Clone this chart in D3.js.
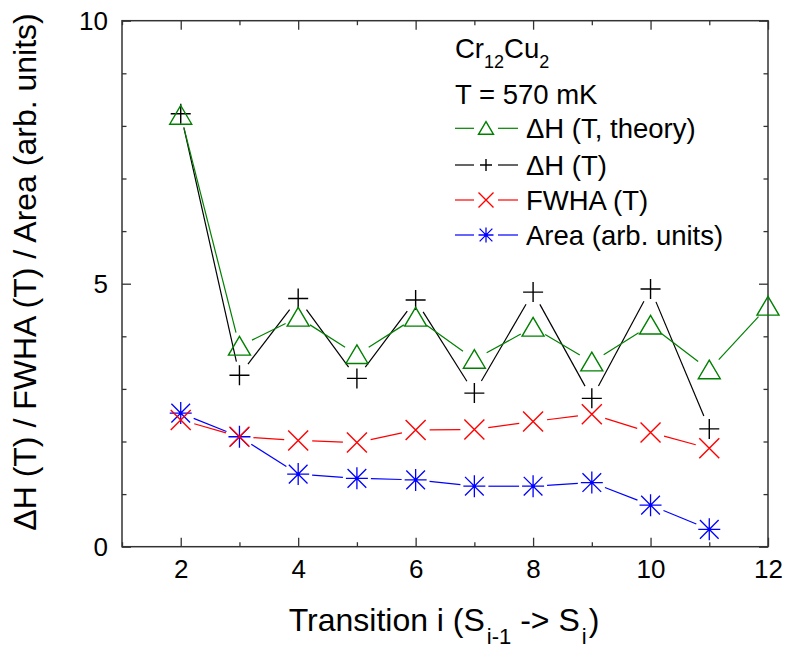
<!DOCTYPE html>
<html>
<head>
<meta charset="utf-8">
<script src="https://cdn.jsdelivr.net/npm/d3@7"></script>
<style>
body { margin: 0; background: #fff; }
text { font-family: "Liberation Sans", Arial, sans-serif; fill: #000; }
</style>
</head>
<body>
<svg id="chart" width="785" height="650"></svg>
<script>
// transition index i
var transitions = [2, 3, 4, 5, 6, 7, 8, 9, 10, 11, 12];
var theoryDH = [8.20, 3.81, 4.36, 3.65, 4.36, 3.56, 4.17, 3.51, 4.21, 3.36, 4.57];
var measDH = [8.23, 3.26, 4.72, 3.20, 4.69, 2.92, 4.84, 2.82, 4.90, 2.24];
var fwha = [2.41, 2.09, 2.02, 1.98, 2.22, 2.23, 2.38, 2.52, 2.17, 1.87];
var area = [2.54, 2.09, 1.38, 1.30, 1.27, 1.15, 1.15, 1.22, 0.79, 0.33];
var xTicks = [2, 4, 6, 8, 10, 12];
var xMinor = [1, 3, 5, 7, 9, 11];
var yTicks = [0, 5, 10];
var yMinor = [1, 2, 3, 4, 6, 7, 8, 9];

var series = [
	{name: "Area (arb. units)", vals: area, color: "#0000ff", marker: "star"},
	{name: "FWHA (T)", vals: fwha, color: "#ff0000", marker: "cross"},
	{name: "\u0394H (T)", vals: measDH, color: "#000000", marker: "plus"},
	{name: "\u0394H (T, theory)", vals: theoryDH, color: "#008000", marker: "tri"}
];

var svg = d3.select("#chart");
var plotLeft = 122, plotRight = 768, plotTop = 20.7, plotBottom = 546.7;

var x = d3.scaleLinear().domain([1, 12]).range([plotLeft, plotRight]);
var y = d3.scaleLinear().domain([0, 10]).range([plotBottom, plotTop]);

var axisColor = "#333";

// frame
svg.append("rect")
	.attr("x", plotLeft).attr("y", plotTop)
	.attr("width", plotRight - plotLeft).attr("height", plotBottom - plotTop)
	.attr("fill", "none").attr("stroke", axisColor).attr("stroke-width", 1.5);

function styleAxis(g){
	g.select(".domain").remove();
	g.selectAll(".tick line").attr("stroke", axisColor).attr("stroke-width", 1.3);
	g.selectAll(".tick text").attr("font-size", 26).attr("font-family", null).attr("fill", "#000");
}

// bottom
svg.append("g").attr("transform", "translate(0," + plotBottom + ")")
	.call(d3.axisBottom(x).tickValues(xTicks).tickSize(-9).tickPadding(13).tickFormat(d3.format("d")))
	.call(styleAxis);
svg.append("g").attr("transform", "translate(0," + plotBottom + ")")
	.call(d3.axisBottom(x).tickValues(xMinor).tickSize(-4.5).tickFormat(""))
	.call(styleAxis);
// top
svg.append("g").attr("transform", "translate(0," + plotTop + ")")
	.call(d3.axisTop(x).tickValues(xTicks).tickSize(-9).tickFormat(""))
	.call(styleAxis);
svg.append("g").attr("transform", "translate(0," + plotTop + ")")
	.call(d3.axisTop(x).tickValues(xMinor).tickSize(-4.5).tickFormat(""))
	.call(styleAxis);
// left
svg.append("g").attr("transform", "translate(" + plotLeft + ",0)")
	.call(d3.axisLeft(y).tickValues(yTicks).tickSize(-9).tickPadding(14).tickFormat(d3.format("d")))
	.call(styleAxis);
svg.append("g").attr("transform", "translate(" + plotLeft + ",0)")
	.call(d3.axisLeft(y).tickValues(yMinor).tickSize(-4.5).tickFormat(""))
	.call(styleAxis);
// right
svg.append("g").attr("transform", "translate(" + plotRight + ",0)")
	.call(d3.axisRight(y).tickValues(yTicks).tickSize(-9).tickFormat(""))
	.call(styleAxis);
svg.append("g").attr("transform", "translate(" + plotRight + ",0)")
	.call(d3.axisRight(y).tickValues(yMinor).tickSize(-4.5).tickFormat(""))
	.call(styleAxis);

// marker drawing
function drawMarker(g, type, cx, cy, s, color){
	var h = s / 2;
	if (type == "tri"){
		g.append("path")
			.attr("d", "M" + cx + "," + (cy - h * 0.9) + "L" + (cx + h) + "," + (cy + h * 0.8) + "L" + (cx - h) + "," + (cy + h * 0.8) + "Z")
			.attr("fill", "none").attr("stroke", color).attr("stroke-width", 1.4);
	} else if (type == "plus"){
		g.append("path")
			.attr("d", "M" + (cx - h) + "," + cy + "H" + (cx + h) + "M" + cx + "," + (cy - h) + "V" + (cy + h))
			.attr("stroke", color).attr("stroke-width", 1.4);
	} else if (type == "cross"){
		g.append("path")
			.attr("d", "M" + (cx - h) + "," + (cy - h) + "L" + (cx + h) + "," + (cy + h) + "M" + (cx - h) + "," + (cy + h) + "L" + (cx + h) + "," + (cy - h))
			.attr("stroke", color).attr("stroke-width", 1.4);
	} else {
		var d = h * 0.85;
		g.append("path")
			.attr("d", "M" + (cx - h) + "," + cy + "H" + (cx + h) + "M" + cx + "," + (cy - h) + "V" + (cy + h)
				+ "M" + (cx - d) + "," + (cy - d) + "L" + (cx + d) + "," + (cy + d)
				+ "M" + (cx - d) + "," + (cy + d) + "L" + (cx + d) + "," + (cy - d))
			.attr("stroke", color).attr("stroke-width", 1.3);
		g.append("circle").attr("cx", cx).attr("cy", cy).attr("r", 1.6).attr("fill", color);
	}
}

var gap = 14;
series.forEach(function(s){
	var g = svg.append("g");
	var pts = s.vals.map(function(v, i){ return [x(transitions[i]), y(v)]; });
	for (var i = 0; i < pts.length - 1; i++){
		var a = pts[i], b = pts[i + 1];
		var dx = b[0] - a[0], dy = b[1] - a[1];
		var len = Math.sqrt(dx * dx + dy * dy);
		if (len <= 2 * gap) continue;
		var ux = dx / len, uy = dy / len;
		g.append("line")
			.attr("x1", a[0] + ux * gap).attr("y1", a[1] + uy * gap)
			.attr("x2", b[0] - ux * gap).attr("y2", b[1] - uy * gap)
			.attr("stroke", s.color).attr("stroke-width", 1.2);
	}
	pts.forEach(function(p){
		var sz = s.marker == "tri" ? 22 : (s.marker == "star" ? 22 : 20);
		drawMarker(g, s.marker, p[0], p[1], sz, s.color);
	});
});

// legend / annotations
var lx = 455;
var legendFont = "27.5px", subFont = "18px";
var t1 = svg.append("text").attr("x", lx).attr("y", 58).style("font-size", legendFont);
t1.append("tspan").text("Cr");
t1.append("tspan").attr("dy", 10).style("font-size", subFont).text("12");
t1.append("tspan").attr("dy", -10).text("Cu");
t1.append("tspan").attr("dy", 10).style("font-size", subFont).text("2");

svg.append("text").attr("x", lx).attr("y", 104).style("font-size", legendFont).text("T = 570 mK");

var legendOrder = [3, 2, 1, 0];
var legendY = [128.3, 165, 200, 235];
legendOrder.forEach(function(si, k){
	var s = series[si];
	var ly = legendY[k];
	var g = svg.append("g");
	g.append("line").attr("x1", lx).attr("x2", lx + 19).attr("y1", ly).attr("y2", ly)
		.attr("stroke", s.color).attr("stroke-width", 1.2);
	g.append("line").attr("x1", lx + 43).attr("x2", lx + 63).attr("y1", ly).attr("y2", ly)
		.attr("stroke", s.color).attr("stroke-width", 1.2);
	drawMarker(g, s.marker, lx + 31, ly, s.marker == "plus" ? 12 : 15, s.color);
	g.append("text").attr("x", 526).attr("y", ly + 10).style("font-size", legendFont).text(s.name);
});

// axis titles
var xt = svg.append("text").attr("x", 444).attr("y", 631).attr("text-anchor", "middle").style("font-size", "32px");
xt.append("tspan").text("Transition i (S");
xt.append("tspan").attr("dy", 13).attr("dx", 2).style("font-size", "22px").text("i-1");
xt.append("tspan").attr("dy", -13).text(" -> S");
xt.append("tspan").attr("dy", 13).attr("dx", 2).style("font-size", "22px").text("i");
xt.append("tspan").attr("dy", -13).attr("dx", 2).text(")");

svg.append("text")
	.attr("transform", "translate(36,272) rotate(-90)")
	.attr("text-anchor", "middle")
	.style("font-size", "32px")
	.text("\u0394H (T) / FWHA (T) / Area (arb. units)");
</script>
</body>
</html>
